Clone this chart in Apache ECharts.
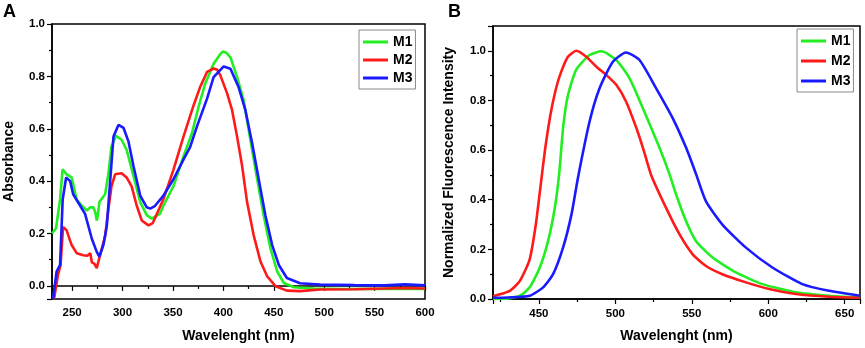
<!DOCTYPE html>
<html>
<head>
<meta charset="utf-8">
<script src="https://cdn.jsdelivr.net/npm/echarts@6/dist/echarts.min.js"></script>
<style>
  html, body { margin: 0; padding: 0; background: #fff; }
  #chart { width: 865px; height: 348px; }
</style>
</head>
<body>
<div id="chart"></div>
<script>
// Panel A: absorbance, [wavelength nm, absorbance]
var absM1 = [
  [230, 0.20], [234, 0.22], [238, 0.33], [240.5, 0.445], [244.5, 0.426], [249.5, 0.414],
  [254.5, 0.33], [259.5, 0.307], [264.5, 0.288], [268, 0.30], [271, 0.30], [273, 0.28],
  [274.4, 0.25], [275.5, 0.27], [277, 0.32], [282.7, 0.35], [286, 0.43], [289, 0.533],
  [293.6, 0.573], [299, 0.558], [304, 0.52], [310.8, 0.42], [317.5, 0.32], [324, 0.27],
  [329, 0.257], [337, 0.275], [340.6, 0.307], [350.6, 0.382], [360.5, 0.495], [368.9, 0.584],
  [375.4, 0.684], [382, 0.773], [390.3, 0.848], [396, 0.88], [399.3, 0.895], [403, 0.89],
  [407, 0.873], [413.6, 0.797], [420, 0.71], [426.8, 0.558], [433.5, 0.408], [440, 0.269],
  [446.7, 0.143], [453.4, 0.055], [460, 0.011], [470, -0.005], [490, -0.01], [520, -0.012],
  [560, -0.011], [600, -0.012]
];
var absM2 = [
  [232, -0.05], [236, 0.043], [238.5, 0.08], [241, 0.225], [244.5, 0.212], [249.5, 0.156],
  [254.5, 0.125], [261, 0.117], [265, 0.115], [268, 0.125], [269.5, 0.09], [272, 0.085],
  [274.4, 0.068], [277.7, 0.118], [282.7, 0.19], [286, 0.295], [289, 0.38], [292.6, 0.426],
  [299, 0.43], [304, 0.414], [309, 0.38], [314, 0.307], [319, 0.25], [325.7, 0.231],
  [330, 0.24], [340.6, 0.332], [350.6, 0.445], [360.5, 0.571], [370.5, 0.69], [377, 0.76],
  [383.8, 0.817], [390.3, 0.83], [394, 0.825], [397, 0.804], [403.7, 0.735], [408.6, 0.672],
  [413.6, 0.57], [418.6, 0.458], [423.5, 0.32], [430, 0.194], [436.8, 0.093], [443.4, 0.037],
  [451.7, -0.001], [463, -0.018], [476, -0.02], [496, -0.014], [530, -0.013], [560, -0.01],
  [580, -0.008], [600, -0.01]
];
var absM3 = [
  [231, -0.05], [234.6, 0.055], [238, 0.08], [240.6, 0.33], [244, 0.414], [248, 0.40],
  [251, 0.35], [257.8, 0.307], [262.8, 0.275], [269.5, 0.18], [274.4, 0.13], [277, 0.112],
  [281, 0.156], [284.4, 0.23], [287.6, 0.395], [291, 0.57], [296, 0.615], [301, 0.603],
  [305.8, 0.552], [310.8, 0.458], [317.5, 0.345], [324, 0.30], [327.4, 0.295], [332, 0.305],
  [340.6, 0.345], [350.6, 0.408], [360.5, 0.483], [367, 0.53], [373.8, 0.609], [383.8, 0.715],
  [390.3, 0.797], [400.3, 0.838], [407, 0.829], [415, 0.76], [421.8, 0.672], [428.5, 0.546],
  [435, 0.408], [441.7, 0.269], [448.4, 0.156], [455, 0.08], [463, 0.03], [476, 0.01],
  [496, 0.005], [530, 0.003], [560, 0.002], [580, 0.006], [600, 0.002]
];

// Panel B: normalized fluorescence, [wavelength nm, intensity]
var flM1 = [
  [420, 0.0], [426.7, 0.0], [437.6, 0.013], [444, 0.047], [450.6, 0.127], [456, 0.233],
  [460.4, 0.367], [463.2, 0.50], [466, 0.70], [469, 0.82], [474.5, 0.925], [483.2, 0.983],
  [490.9, 0.998], [500.6, 0.963], [509.3, 0.889], [518, 0.769], [528.9, 0.609], [535.4, 0.503],
  [539.8, 0.42], [546.3, 0.313], [552.8, 0.233], [563.6, 0.167], [578.9, 0.107], [596.2, 0.06],
  [618, 0.027], [639.7, 0.013], [660, 0.006]
];
var flM2 = [
  [420, 0.01], [421.3, 0.013], [431, 0.033], [437.6, 0.073], [444, 0.16], [448, 0.30],
  [451, 0.45], [454, 0.60], [457.5, 0.74], [460.5, 0.83], [463.7, 0.90], [469, 0.976],
  [474.5, 1.0], [481, 0.976], [487.6, 0.936], [494, 0.903], [500.6, 0.863], [507, 0.796],
  [513.7, 0.69], [518.5, 0.60], [523.4, 0.50], [533.2, 0.367], [542, 0.26], [550.6, 0.18],
  [559.3, 0.133], [570, 0.10], [585.4, 0.067], [600.6, 0.04], [618, 0.02], [639.7, 0.009],
  [660, 0.005]
];
var flM3 = [
  [420, 0.005], [430, 0.006], [444, 0.013], [452.8, 0.047], [459.3, 0.10], [465.8, 0.207],
  [471.3, 0.34], [475.6, 0.49], [483.2, 0.716], [489.7, 0.849], [498.4, 0.956], [507, 0.993],
  [515.8, 0.963], [526.7, 0.849], [537.5, 0.729], [546.3, 0.609], [552.8, 0.503], [559.3, 0.393],
  [570, 0.30], [585.4, 0.207], [602.7, 0.127], [622.3, 0.06], [639.7, 0.033], [660, 0.013]
];

var seriesNames = ['M1', 'M2', 'M3'];
var seriesColors = ['#22ee22', '#ff1a1a', '#1a1aff'];

var font = 'Liberation Sans';
var chart = echarts.init(document.getElementById('chart'));

function makeAxisX(idx, min, max, split, labelMargin) {
  return {
    type: 'value', gridIndex: idx, min: min, max: max, splitNumber: split,
    name: 'Wavelenght (nm)', nameLocation: 'middle', nameGap: 30,
    nameTextStyle: { fontFamily: font, fontWeight: 'bold', fontSize: 14, color: '#000' },
    axisLine: { lineStyle: { color: '#000', width: 1.5 } },
    axisTick: { length: 5, lineStyle: { color: '#000', width: 1.2 } },
    minorTick: { show: true, splitNumber: 2, length: 3, lineStyle: { color: '#000', width: 1.2 } },
    axisLabel: { showMinLabel: false, showMaxLabel: idx === 0, margin: labelMargin,
      fontFamily: font, fontWeight: 'bold', fontSize: 11.5, color: '#000' },
    splitLine: { show: false }
  };
}

function makeAxisY(idx, name, min, max, gap) {
  return {
    type: 'value', gridIndex: idx, min: min, max: max, splitNumber: 5,
    name: name, nameLocation: 'middle', nameGap: gap,
    nameTextStyle: { fontFamily: font, fontWeight: 'bold', fontSize: 14, color: '#000' },
    axisLine: { show: true, lineStyle: { color: '#000', width: 1.5 } },
    axisTick: { show: true, length: 5, lineStyle: { color: '#000', width: 1.2 } },
    minorTick: { show: true, splitNumber: 2, length: 3, lineStyle: { color: '#000', width: 1.2 } },
    axisLabel: { showMinLabel: idx === 1, showMaxLabel: idx === 0, margin: 7,
      fontFamily: font, fontWeight: 'bold', fontSize: 11.5, color: '#000',
      formatter: function (v) { return v.toFixed(1); } },
    splitLine: { show: false }
  };
}

function makeLegend(left, top, gap) {
  return {
    orient: 'vertical', left: left, top: top, data: seriesNames,
    icon: 'rect', itemWidth: 25, itemHeight: 3, itemGap: gap,
    padding: [5, 3, 4, 4], borderColor: '#888', borderWidth: 1,
    textStyle: { fontFamily: font, fontWeight: 'bold', fontSize: 14, color: '#000' }
  };
}

var absData = [absM1, absM2, absM3];
var flData = [flM1, flM2, flM3];
var series = [];
seriesNames.forEach(function (n, i) {
  series.push({ name: n, type: 'line', xAxisIndex: 0, yAxisIndex: 0, data: absData[i],
    showSymbol: false, lineStyle: { width: 2.6, color: seriesColors[i] }, itemStyle: { color: seriesColors[i] } });
});
seriesNames.forEach(function (n, i) {
  series.push({ name: n, type: 'line', xAxisIndex: 1, yAxisIndex: 1, data: flData[i],
    smooth: 0.2,
    showSymbol: false, lineStyle: { width: 2.6, color: seriesColors[i] }, itemStyle: { color: seriesColors[i] } });
});

var option = {
  backgroundColor: '#fff',
  animation: false,
  graphic: [
    { type: 'text', left: 3, top: 3, style: { text: 'A', font: 'bold 18px "Liberation Sans"', fill: '#000' } },
    { type: 'text', left: 448, top: 3, style: { text: 'B', font: 'bold 18px "Liberation Sans"', fill: '#000' } }
  ],
  legend: [makeLegend(359, 30, 4), makeLegend(797, 29, 6)],
  grid: [
    { left: 52, top: 24, right: 440, bottom: 47, show: true, borderColor: '#000', borderWidth: 1.5 },
    { left: 493, top: 26, right: 5, bottom: 49, show: true, borderColor: '#000', borderWidth: 1.5 }
  ],
  xAxis: [makeAxisX(0, 230, 600, 7, 8), makeAxisX(1, 420, 660, 5, 9)],
  yAxis: [makeAxisY(0, 'Absorbance', -0.05, 1.0, 36), makeAxisY(1, 'Normalized Fluorescence Intensity', 0, 1.1, 37)],
  series: series
};

chart.setOption(option);
</script>
</body>
</html>
